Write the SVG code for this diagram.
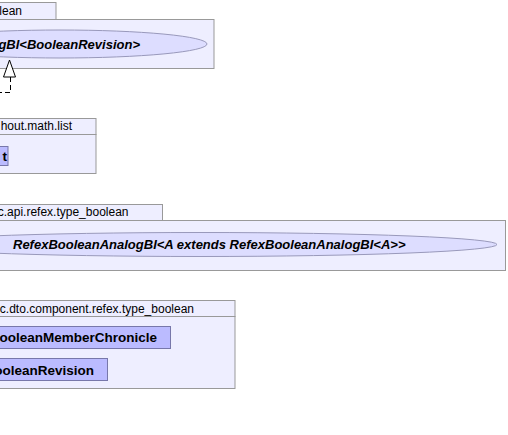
<svg xmlns="http://www.w3.org/2000/svg" width="508" height="435" viewBox="0 0 508 435">
<style>
.pkg{fill:#eeeeff;stroke:#999999;stroke-width:1}
.tab{font-family:"Liberation Sans",Arial,sans-serif;font-size:12px;fill:#000}
.cls{fill:#bbbbff;stroke:#7777aa;stroke-width:1}
.ell{fill:#ddddff;stroke:#9999bb;stroke-width:1}
.bold{font-family:"Liberation Sans",Arial,sans-serif;font-size:13px;font-weight:bold;fill:#000}
.cn{font-size:13.5px}
.it{font-style:italic}
.edge{fill:none;stroke:#000;stroke-width:1}
</style>
<rect width="508" height="435" fill="#ffffff"/>
<g id="pkg_boolean">
<rect class="pkg" x="-10" y="2.5" width="66" height="17"/>
<rect class="pkg" x="-10" y="19.5" width="224" height="49"/>
<text class="tab" x="22" y="15" text-anchor="end">lean</text>
</g>
<g id="node_BooleanAnalog">
<ellipse class="ell" cx="60" cy="44" rx="147" ry="14"/>
<text class="bold it" x="140" y="48.5" text-anchor="end">gBI&lt;BooleanRevision&gt;</text>
</g>
<g id="pkg_math_list">
<rect class="pkg" x="-10" y="118.5" width="106" height="16"/>
<rect class="pkg" x="-10" y="134.5" width="106" height="39"/>
<text class="tab" x="72" y="130" text-anchor="end">hout.math.list</text>
</g>
<g id="node_list">
<rect class="cls" x="-10" y="146.5" width="18" height="19"/>
<text class="bold cn" x="7" y="160.5" text-anchor="end">t</text>
</g>
<g id="pkg_api_refex">
<rect class="pkg" x="-10" y="204.5" width="172.5" height="16"/>
<rect class="pkg" x="-10" y="220.5" width="515.5" height="50"/>
<text class="tab" x="128.5" y="216" text-anchor="end">c.api.refex.type_boolean</text>
</g>
<g id="node_RefexBooleanAnalogBI">
<ellipse class="ell" cx="200" cy="244.5" rx="297" ry="12"/>
<text class="bold it" x="13" y="249">RefexBooleanAnalogBI&lt;A extends RefexBooleanAnalogBI&lt;A&gt;&gt;</text>
</g>
<g id="pkg_dto_refex">
<rect class="pkg" x="-10" y="300.5" width="245" height="16"/>
<rect class="pkg" x="-10" y="316.5" width="245" height="72"/>
<text class="tab" x="194" y="312.5" text-anchor="end">c.dto.component.refex.type_boolean</text>
</g>
<g id="node_BooleanMemberChronicle">
<rect class="cls" x="-10" y="326.5" width="180.5" height="22"/>
<text class="bold cn" x="157" y="342" text-anchor="end">ooleanMemberChronicle</text>
</g>
<g id="node_BooleanRevision">
<rect class="cls" x="-10" y="358.5" width="117.5" height="22"/>
<text class="bold cn" x="94" y="374.5" text-anchor="end">ooleanRevision</text>
</g>
<g id="connectors">
<path class="edge" d="M10.5,77 L10.5,92.5 L0,92.5" stroke-dasharray="5,3"/>
<polygon points="9.5,60 3.5,77 15.5,77" fill="#ffffff" stroke="#000" stroke-width="1"/>
</g>
</svg>
